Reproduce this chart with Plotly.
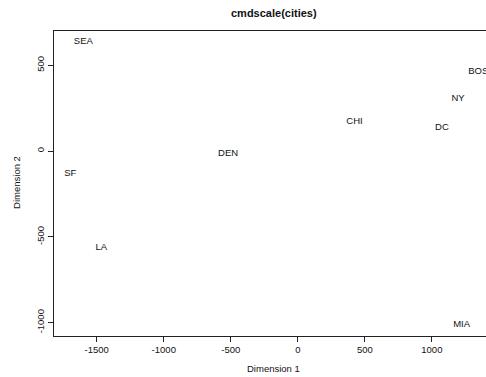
import plotly.graph_objects as go

cities = ["BOS", "NY", "DC", "MIA", "CHI", "SEA", "SF", "LA", "DEN"]
dim1 = [1346, 1195, 1075, 1222, 423, -1600, -1697, -1466, -520]
dim2 = [465, 306, 134, -1012, 174, 638, -130, -564, -17]

x_ticks = [-1500, -1000, -500, 0, 500, 1000]
y_ticks = [-1000, -500, 0, 500]

FONT = "Liberation Sans, Arial, Helvetica, sans-serif"

fig = go.Figure()
fig.add_trace(go.Scatter(
    x=dim1, y=dim2, text=cities, mode="text",
    textposition="middle center",
    textfont=dict(family=FONT, size=9.5, color="#111111"),
    cliponaxis=True, hoverinfo="skip", showlegend=False,
))

fig.update_layout(
    width=486, height=377,
    margin=dict(l=54, r=0, t=31, b=41),
    paper_bgcolor="white", plot_bgcolor="white",
    font=dict(family=FONT, size=9.5, color="#111111"),
    xaxis=dict(
        range=[-1819, 1404], tickvals=x_ticks, ticktext=[str(v) for v in x_ticks],
        showgrid=False, zeroline=False, showline=True, linecolor="#222222", linewidth=1,
        mirror=True, ticks="outside", ticklen=5, tickcolor="#222222",
        tickfont=dict(family=FONT, size=9.5, color="#111111"),
    ),
    yaxis=dict(
        range=[-1078, 700], tickvals=y_ticks, ticktext=[str(v) for v in y_ticks],
        showgrid=False, zeroline=False, showline=True, linecolor="#222222", linewidth=1,
        mirror=False, ticks="outside", ticklen=5, tickcolor="#222222", tickangle=-90,
        tickfont=dict(family=FONT, size=9.5, color="#111111"),
    ),
    annotations=[
        dict(text="<b>cmdscale(cities)</b>", xref="paper", yref="paper", x=0.509, y=1.059,
             xanchor="center", yanchor="middle", showarrow=False,
             font=dict(family=FONT, size=11, color="#111111")),
        dict(text="Dimension 1", xref="paper", yref="paper", x=0.509, y=-0.105,
             xanchor="center", yanchor="middle", showarrow=False,
             font=dict(family=FONT, size=9.5, color="#111111")),
        dict(text="Dimension 2", xref="paper", yref="paper", x=-0.0856, y=0.502,
             xanchor="center", yanchor="middle", showarrow=False, textangle=-90,
             font=dict(family=FONT, size=9.5, color="#111111")),
    ],
)

fig.write_html(
    "out.html",
    config={"displayModeBar": False},
    post_script="document.body.style.margin='0';document.body.style.overflow='hidden';",
)
